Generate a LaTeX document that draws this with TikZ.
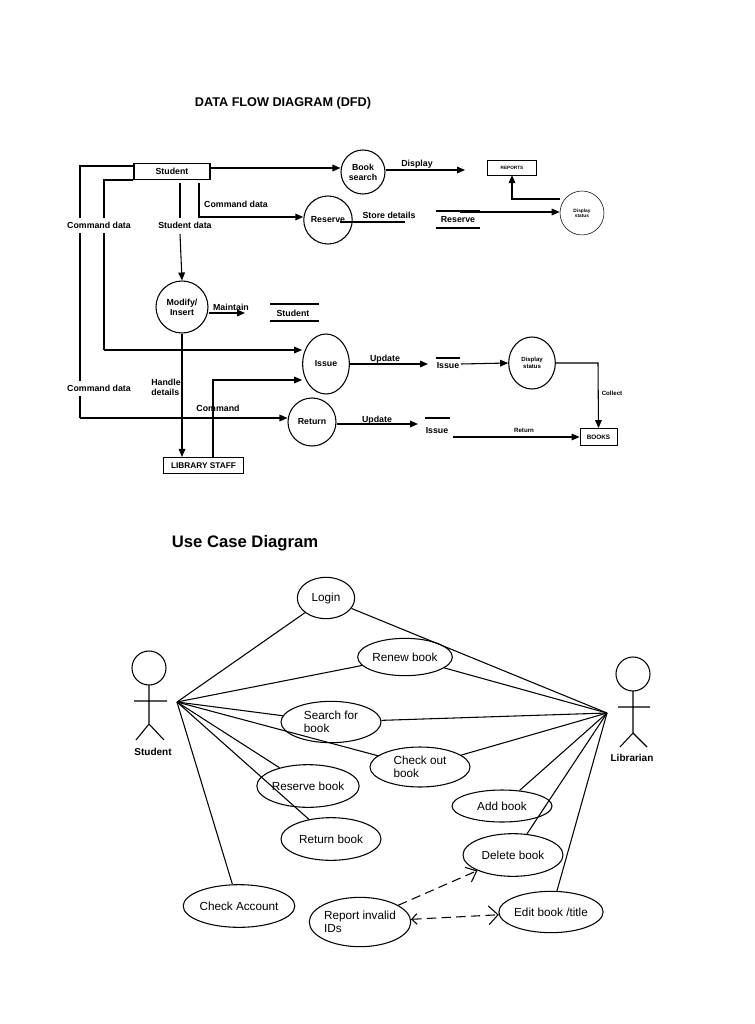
\documentclass[tikz,border=0pt]{standalone}
\usepackage{fontspec}
\setmainfont{Liberation Sans}
\usetikzlibrary{arrows.meta,shapes.geometric}
\begin{document}
\begin{tikzpicture}[x=0.75pt,y=-0.75pt,
  lbl/.style={font=\fontsize{6.6}{7.5}\selectfont\bfseries,inner sep=1pt,align=left},
  box/.style={draw,thick,minimum height=12pt,inner sep=1pt},
  proc/.style={draw,thick,ellipse,align=center,font=\fontsize{6.6}{7.5}\selectfont\bfseries,inner sep=0pt},
  fl/.style={thick,-{Triangle[length=6pt,width=5pt]}},
  ln/.style={thick},
  uc/.style={draw,thick,ellipse,font=\fontsize{8.8}{10}\selectfont,align=left,inner sep=0pt},
  ul/.style={thick},
  act/.style={thick}]
\useasboundingbox (0,0) rectangle (754,1024);
% ===== DFD =====
\node[font=\fontsize{9.5}{11}\selectfont\bfseries] (t1) at (283,103) {DATA FLOW DIAGRAM (DFD)};
\node[box,minimum width=57pt] (stu) at (172,171.5) {\fontsize{6.6}{7.5}\selectfont\bfseries Student};
\node[proc,minimum width=33pt,minimum height=33pt] (bs) at (363,172) {Book\\search};
\node[box,thin,minimum width=37pt,minimum height=11pt] (rep) at (512,167.5) {\fontsize{3.5}{4}\selectfont\bfseries REPORTS};
\node[draw,thin,ellipse,minimum width=33pt,minimum height=33pt,font=\fontsize{3.6}{4}\selectfont\bfseries,align=center] (ds1) at (582,213) {Display\\status};
\node[proc,minimum width=36pt,minimum height=36pt] (res) at (328,220) {Reserve};
\node[proc,minimum width=39pt,minimum height=39pt] (mod) at (182,307) {Modify/\\Insert};
\node[proc,minimum width=35pt,minimum height=45pt] (iss) at (326,364) {Issue};
\node[draw,thick,ellipse,minimum width=35pt,minimum height=39pt,font=\fontsize{4.5}{5}\selectfont\bfseries,align=center] (ds2) at (532,363) {Display\\status};
\node[proc,minimum width=36pt,minimum height=36pt] (ret) at (312,422) {Return};
\node[box,thin,minimum width=28pt,minimum height=13pt] (books) at (598.5,437) {\fontsize{4.8}{5}\selectfont\bfseries BOOKS};
\node[box,minimum width=60pt,minimum height=12pt] (lib) at (203.5,465.5) {\fontsize{6.2}{7}\selectfont\bfseries LIBRARY STAFF};
% data stores
\node[lbl] (sres) at (458,220) {Reserve};
\draw[ln] (436,211) -- (480,211) (436,228) -- (480,228);
\node[lbl] (sstu) at (293,313) {Student};
\draw[ln] (270,304) -- (319,304) (270,321) -- (319,321);
\node[lbl] (siss1) at (448,366) {Issue};
\draw[ln] (436,358) -- (460,358);
\node[lbl] (siss2) at (437,431) {Issue};
\draw[ln] (425,418) -- (450,418);
% coordinates
\coordinate (c1) at (80,166); \coordinate (c1b) at (80,418);
\coordinate (c2) at (104,180); \coordinate (c2b) at (104,350);
% flows
\draw[fl] (stu.east |- 0,168) -- (bs.west |- 0,168);
\draw[fl] (bs.east) ++(0,-2) -- (465,170);
\node[lbl] (ldisp) at (417,164) {Display};
\draw[fl] (ds1.west |- 0,199) -| (rep.south);
\draw[ln] (340,222) -- (405,222);
\node[lbl] (lsd) at (389,215) {Store details};
\draw[fl] (460,212) -- (ds1.west |- 0,212);
\draw[fl] (199,183) -- (199,217) -- (res.west |- 0,217);
\node[lbl,fill=white] (lcd0) at (236,204) {Command data};
\draw[ln] (180,183) -- (180,218);
\draw[fl] (180,234) -- (mod.north);
\node[lbl] (lsdt) at (185,225) {Student data};
\draw[fl] (mod.east |- 0,313) -- (245,313);
\node[lbl] (lmnt) at (231,307) {Maintain};
\draw[ln] (stu.west |- 0,166) -- (c1) -- (80,218) (80,233) -- (80,381) (80,396) -- (c1b);
\draw[fl] (c1b) -- (ret.west |- 0,418);
\node[lbl] (lcd1) at (99,225) {Command data};
\node[lbl] (lcd2) at (99,388) {Command data};
\draw[ln] (stu.west |- 0,180) -- (c2) -- (104,218) (104,233) -- (c2b);
\draw[fl] (c2b) -- (iss.west |- 0,350);
\draw[fl] (mod.south) -- (lib.north -| mod.south);
\node[lbl] (lhd) at (166,387) {Handle\\details};
\draw[fl] (lib.north -| 213,0) -- (213,380) -- (iss.west |- 0,380);
\node[lbl] (lcmd) at (218,408) {Command};
\draw[fl] (iss.east) -- (428,364);
\node[lbl] (lup1) at (385,359) {Update};
\draw[fl] (461,364) -- (ds2.west);
\draw[fl] (ds2.east) -- (598,363) -- (books.north);
\node[font=\fontsize{4.6}{5}\selectfont\bfseries] (lcol) at (612,393) {Collect};
\draw[fl] (ret.east |- 0,424) -- (418,424);
\node[lbl] (lup2) at (377,420) {Update};
\draw[fl] (453,437) -- (books.west);
\node[font=\fontsize{4.6}{5}\selectfont\bfseries] (lrt) at (524,430) {Return};
% ===== Use case =====
\node[font=\fontsize{12.5}{14}\selectfont\bfseries] (t2) at (245,543) {Use Case Diagram};
\draw[act] (149,668) circle (17);
\coordinate (sj) at (177,702);
\draw[act] (149,685) -- (149,724) (134,701) -- (167,701) (136,740) -- (149,724) -- (164,740);
\node[font=\fontsize{7.5}{9}\selectfont\bfseries] (sl) at (153,752) {Student};
\draw[act] (633,674) circle (17);
\coordinate (lj) at (607,713);
\draw[act] (633,691) -- (633,733) (618,707) -- (650,707) (620,747) -- (633,733) -- (647,747);
\node[font=\fontsize{7.5}{9}\selectfont\bfseries] (ll) at (632,758) {Librarian};
\node[uc,minimum width=43pt,minimum height=31pt] (login) at (326,598) {Login};
\node[uc,minimum width=71pt,minimum height=28pt] (renew) at (405,657) {Renew book};
\node[uc,minimum width=75pt,minimum height=31pt] (search) at (331,722) {Search for\\book};
\node[uc,minimum width=75pt,minimum height=30pt] (check) at (420,767) {Check out\\book};
\node[uc,minimum width=75pt,minimum height=32pt] (reserve) at (308,786) {Reserve book};
\node[uc,minimum width=75pt,minimum height=24pt] (add) at (502,806) {Add book};
\node[uc,minimum width=75pt,minimum height=32pt] (return) at (331,839) {Return book};
\node[uc,minimum width=75pt,minimum height=32pt] (delete) at (513,855) {Delete book};
\node[uc,minimum width=75pt,minimum height=32pt] (acct) at (239,906) {Check Account};
\node[uc,minimum width=75pt,minimum height=37pt] (report) at (360,922) {Report invalid\\IDs};
\node[uc,minimum width=75pt,minimum height=31pt] (edit) at (551,912) {Edit book /title};
\foreach \u in {login,renew,search,check,reserve,return,acct} \draw[ul] (sj) -- (\u);
\foreach \u in {login,renew,search,check,add,delete,edit} \draw[ul] (lj) -- (\u);
\draw[ul,dash pattern=on 7pt off 4pt,-{Straight Barb[length=7pt,width=12pt]}] (report) -- (delete);
\draw[ul,dash pattern=on 7pt off 4pt,{Straight Barb[length=4pt,width=8pt]}-{Straight Barb[length=7pt,width=14pt]}] (report) -- (edit);
\end{tikzpicture}
\end{document}
